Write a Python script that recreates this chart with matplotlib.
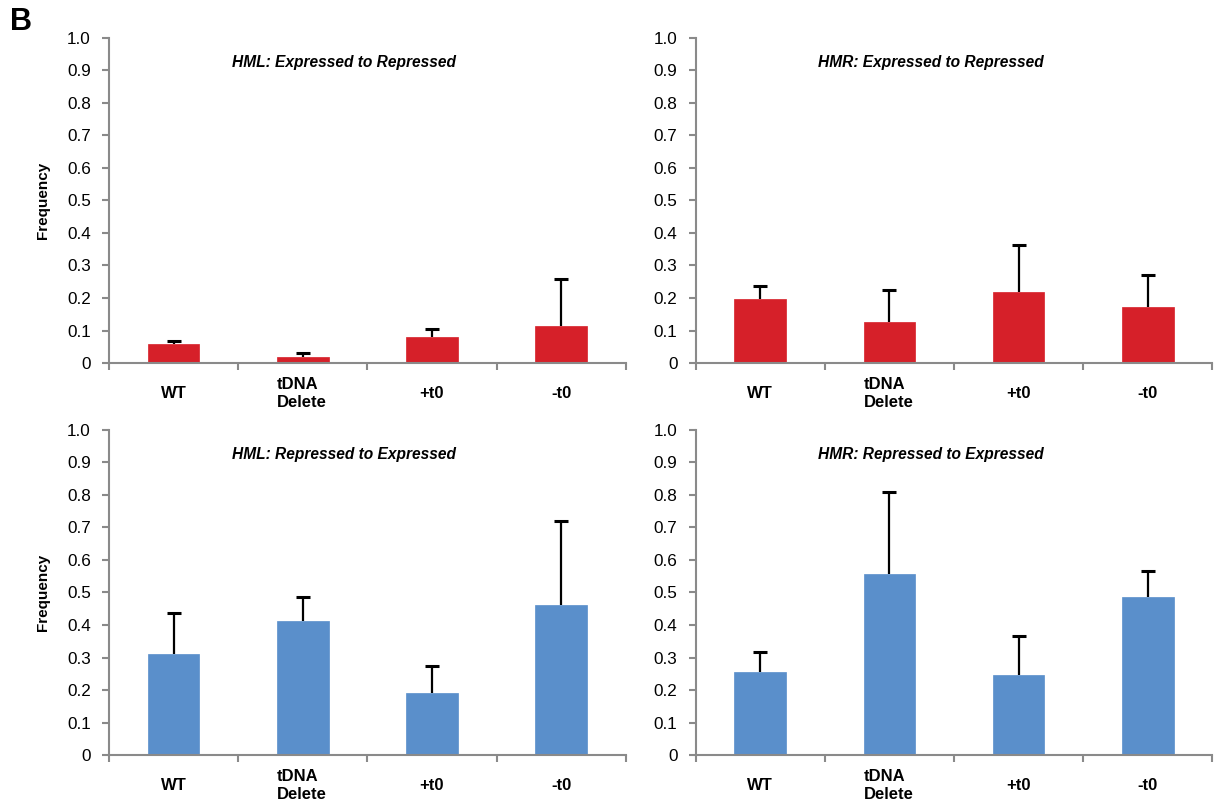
import numpy as np
import matplotlib
matplotlib.use('Agg')
import matplotlib.pyplot as plt
import matplotlib.transforms as mtransforms

plt.rcParams['font.family'] = ['Liberation Sans', 'DejaVu Sans']

categories = ['WT', 'tDNA\nDelete', '+t0', '-t0']

hml_exp_rep = [0.060, 0.020, 0.080, 0.113]
hml_exp_rep_err = [0.007, 0.012, 0.025, 0.145]
hmr_exp_rep = [0.197, 0.125, 0.217, 0.172]
hmr_exp_rep_err = [0.040, 0.100, 0.145, 0.098]
hml_rep_exp = [0.310, 0.413, 0.192, 0.463]
hml_rep_exp_err = [0.128, 0.074, 0.082, 0.257]
hmr_rep_exp = [0.255, 0.558, 0.247, 0.485]
hmr_rep_exp_err = [0.062, 0.250, 0.119, 0.082]

yticks = [0, 0.1, 0.2, 0.3, 0.4, 0.5, 0.6, 0.7, 0.8, 0.9, 1.0]
ytick_labels = ['0', '0.1', '0.2', '0.3', '0.4', '0.5', '0.6', '0.7', '0.8', '0.9', '1.0']

RED = '#d62029'
BLUE = '#5a8fcb'
SPINE = '#8a8a8a'

panels = [
    ('HML: Expressed to Repressed', hml_exp_rep, hml_exp_rep_err, RED, True, [0.0896, 0.549, 0.425, 0.404]),
    ('HMR: Expressed to Repressed', hmr_exp_rep, hmr_exp_rep_err, RED, False, [0.572, 0.549, 0.425, 0.404]),
    ('HML: Repressed to Expressed', hml_rep_exp, hml_rep_exp_err, BLUE, True, [0.0896, 0.062, 0.425, 0.404]),
    ('HMR: Repressed to Expressed', hmr_rep_exp, hmr_rep_exp_err, BLUE, False, [0.572, 0.062, 0.425, 0.404]),
]

fig = plt.figure(figsize=(12.16, 8.05), dpi=100)

for title, vals, errs, color, show_ylabel, rect in panels:
    ax = fig.add_axes(rect)
    x = np.arange(len(categories))
    tops = np.array(vals) + np.array(errs)
    ax.bar(x, vals, width=0.4, color=color, edgecolor=color, linewidth=0.5, zorder=2)
    # upper-only error bars with a single cap
    ax.vlines(x, vals, tops, colors='black', linewidth=1.6, zorder=3)
    ax.scatter(x, tops, marker='_', s=110, linewidths=2.2, color='black', zorder=3)
    ax.set_xlim(-0.5, len(categories) - 0.5)
    ax.set_ylim(0, 1.0)
    ax.set_yticks(yticks)
    ax.set_yticklabels(ytick_labels, fontsize=12.3)
    ax.set_xticks(np.arange(-0.5, len(categories)))
    ax.set_xticklabels([])
    ax.tick_params(axis='x', length=5, width=1.5, color=SPINE, direction='out')
    ax.tick_params(axis='y', length=5, width=1.5, color=SPINE, direction='out', pad=8)
    # category labels below the axis
    trans = mtransforms.blended_transform_factory(ax.transData, ax.transAxes)
    for xi, cat in zip(x, categories):
        if '\n' in cat:
            ax.text(xi - 0.2, -0.095, cat, transform=trans, ha='left', va='center',
                    fontsize=12, fontweight='bold', linespacing=1.25)
        else:
            ax.text(xi, -0.095, cat, transform=trans, ha='center', va='center',
                    fontsize=12, fontweight='bold')
    for side in ['top', 'right']:
        ax.spines[side].set_visible(False)
    for side in ['left', 'bottom']:
        ax.spines[side].set_color(SPINE)
        ax.spines[side].set_linewidth(1.5)
    ax.text(0.455, 0.925, title, transform=ax.transAxes, ha='center', va='center',
            fontsize=11.2, fontweight='bold', fontstyle='italic')
    if show_ylabel:
        ax.set_ylabel('Frequency', fontsize=11, fontweight='bold', labelpad=12)

fig.text(0.008, 0.973, 'B', fontsize=22, fontweight='bold', ha='left', va='center')

fig.savefig('out.png', dpi=100)
